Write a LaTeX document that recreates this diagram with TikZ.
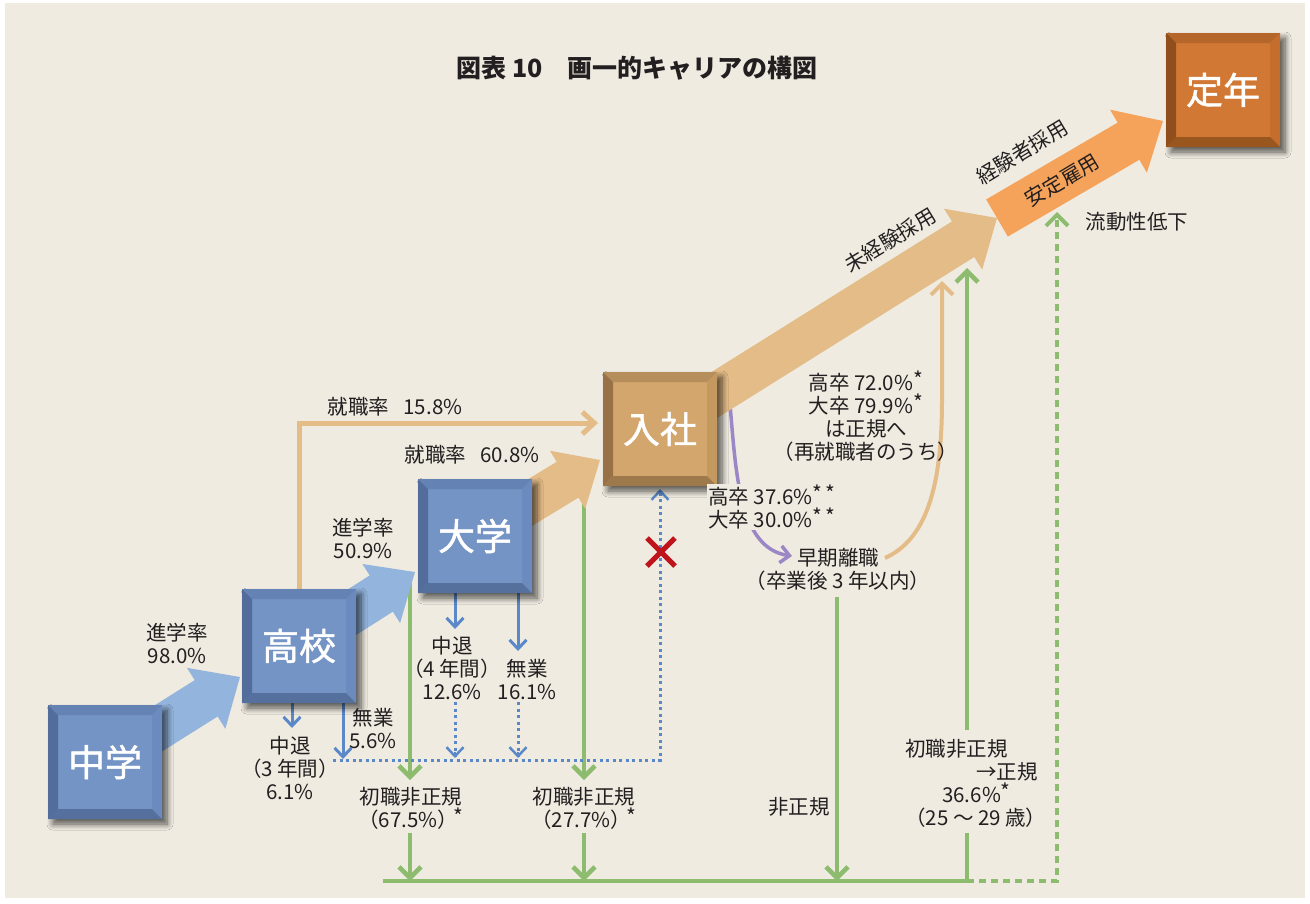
\documentclass[tikz,border=0pt]{standalone}
\usepackage{fontspec}
\setmainfont{Noto Sans CJK JP}
\newfontfamily\boxfont[FakeBold=1.2]{Noto Sans CJK JP}
\usetikzlibrary{arrows.meta,calc,shadows.blur}
\definecolor{bg}{HTML}{EFEBE1}
\definecolor{txt}{HTML}{231F20}
\definecolor{lblue}{HTML}{93B4DC}
\definecolor{lineblue}{HTML}{5A88C8}
\definecolor{gline}{HTML}{8DBC6E}
\definecolor{tanarr}{HTML}{E4BC88}
\definecolor{orarr}{HTML}{F5A35A}
\definecolor{purp}{HTML}{9B86C6}
\definecolor{redx}{HTML}{C0141C}
\definecolor{bface}{HTML}{7394C5}
\definecolor{btop}{HTML}{6582B4}
\definecolor{bleft}{HTML}{526C9B}
\definecolor{bbot}{HTML}{56709D}
\definecolor{bright}{HTML}{6B8BBE}
\definecolor{tface}{HTML}{D3A66E}
\definecolor{ttop}{HTML}{B68E5B}
\definecolor{tleft}{HTML}{987246}
\definecolor{tbot}{HTML}{9D794C}
\definecolor{tright}{HTML}{C49960}
\definecolor{oface}{HTML}{D27835}
\definecolor{otop}{HTML}{B5662A}
\definecolor{oleft}{HTML}{8F4E1B}
\definecolor{obot}{HTML}{99561F}
\definecolor{oright}{HTML}{C56D2C}
\newcommand\lblfont{\fontsize{20.5}{23}\selectfont}
\newcommand\sst{\raisebox{0.12em}{\fontsize{21}{21}\selectfont *}}
% #1 start, #2 tip, #3 name of head base, #4 shaft half width, #5 head half width, #6 head length, #7 colour
\newcommand\fatarrow[7]{%
  \coordinate (#3) at ($(#2)!#6!(#1)$);
  \fill[#7] ($(#1)!#4!90:(#2)$) -- ($(#3)!#4!-90:(#1)$) -- ($(#3)!#5!-90:(#1)$) -- (#2)
     -- ($(#3)!#5!90:(#1)$) -- ($(#3)!#4!90:(#1)$) -- ($(#1)!#4!-90:(#2)$) -- cycle;}
\tikzset{
  bevelbox/.style n args={5}{draw=none, minimum size=114pt, inner sep=0pt, fill=#1,
    text=white, font=\boxfont\fontsize{37}{37}\selectfont,
    blur shadow={shadow xshift=5pt,shadow yshift=-5pt,shadow blur radius=6pt,shadow blur steps=8,shadow opacity=65},
    path picture={
      \path (path picture bounding box.north west) coordinate (pa)
            (path picture bounding box.north east) coordinate (pb)
            (path picture bounding box.south east) coordinate (pc)
            (path picture bounding box.south west) coordinate (pd);
      \fill[#2] (pa) -- (pb) -- ([shift={(-10pt,-10pt)}]pb) -- ([shift={(10pt,-10pt)}]pa) -- cycle;
      \fill[#5] (pb) -- (pc) -- ([shift={(-10pt,10pt)}]pc) -- ([shift={(-10pt,-10pt)}]pb) -- cycle;
      \fill[#4] (pc) -- (pd) -- ([shift={(10pt,10pt)}]pd) -- ([shift={(-10pt,10pt)}]pc) -- cycle;
      \fill[#3] (pd) -- (pa) -- ([shift={(10pt,-10pt)}]pa) -- ([shift={(10pt,10pt)}]pd) -- cycle;
    }},
  bluebox/.style={bevelbox={bface}{btop}{bleft}{bbot}{bright}},
  tanbox/.style={bevelbox={tface}{ttop}{tleft}{tbot}{tright}},
  orbox/.style={bevelbox={oface}{otop}{oleft}{obot}{oright}},
  lbl/.style={text=txt, font=\lblfont, inner sep=0pt, align=center},
  gl/.style={draw=gline, line width=4.5pt, -{Straight Barb[length=11pt,width=22pt]}},
  glplain/.style={draw=gline, line width=4.5pt},
  gdash/.style={draw=gline, line width=4pt, dash pattern=on 7pt off 5pt},
  bl/.style={draw=lineblue, line width=3pt, -{Straight Barb[length=9pt,width=17pt]}},
  dotb/.style={draw=lineblue, line width=3pt, dash pattern=on 3pt off 3.5pt},
  tanline/.style={draw=tanarr, line width=5pt},
}
\begin{document}
\begin{tikzpicture}[x=1pt,y=-1pt]
\useasboundingbox (0,0) rectangle (1310,903);
\fill[white] (0,0) rectangle (1310,903);
\fill[bg] (5,3) rectangle (1305,898);

% coordinates
\coordinate (t1) at (240,677);
\coordinate (t2) at (415,572);
\coordinate (t3) at (600,460);
\coordinate (t4) at (997,218);
\coordinate (t5) at (1163,121);
\coordinate (kdA0) at (292,703);
\coordinate (kdA) at (292,728);
\coordinate (kdB0) at (343,703);
\coordinate (kdB) at (343,759);
\coordinate (ddA0) at (455,593);
\coordinate (ddA) at (455,629);
\coordinate (ddB0) at (518,593);
\coordinate (ddB) at (518,651);
\coordinate (dtA0) at (455,702);
\coordinate (dtA) at (455,758);
\coordinate (dtB0) at (518,702);
\coordinate (dtB) at (518,758);
\coordinate (dl) at (333,760);
\coordinate (g1a) at (410,577);
\coordinate (g1b) at (410,780);
\coordinate (g1c) at (410,833);
\coordinate (g1d) at (410,881);
\coordinate (g2a) at (584,487);
\coordinate (g2b) at (584,780);
\coordinate (g2c) at (584,833);
\coordinate (g2d) at (584,881);
\coordinate (g3a) at (837,597);
\coordinate (g3d) at (837,881);
\coordinate (bl0) at (383,881);
\coordinate (br0) at (967,881);
\coordinate (g4b) at (967,833);
\coordinate (g4c) at (967,730);
\coordinate (g4d) at (967,268);
\coordinate (dr0) at (1057,881);
\coordinate (dr1) at (1057,212);
\coordinate (pu0) at (730,405);
\coordinate (pu1) at (792,556);
\coordinate (tc0) at (885,558);
\coordinate (tc1) at (942,400);
\coordinate (tc2) at (942,281);

\path (105,762) coordinate (jhc) (299,646) coordinate (kkc) (475,536) coordinate (dgc)
      (660,429) coordinate (nsc) (1223,90) coordinate (tnc);

% thin connectors
\draw[gl] (g1a) -- (g1b);
\draw[gl] (g1c) -- (g1d);
\draw[gl] (g2a) -- (g2b);
\draw[gl] (g2c) -- (g2d);
\draw[gl] (g3a) -- (g3d);
\draw[glplain] (bl0) -- (br0);
\draw[glplain] (br0) -- (g4b);
\draw[gl] (g4c) -- (g4d);
\draw[gdash, -{Straight Barb[length=11pt,width=22pt]}] (br0) -- (dr0) -- (dr1);
\draw[tanline, -{Straight Barb[length=12pt,width=22pt]}] (kkc |- 0,590) |- (598,423);
\draw[draw=purp, line width=3.5pt, -{Straight Barb[length=9pt,width=17pt]}]
   (pu0) .. controls (736,470) and (738,548) .. (pu1);
\draw[draw=tanarr, line width=4pt, -{Straight Barb[length=11pt,width=22pt]}]
   (tc0) .. controls (925,540) and (942,490) .. (tc1) -- (tc2);
\draw[bl] (kdA0) -- (kdA);
\draw[bl] (kdB0) -- (kdB);
\draw[bl] (ddA0) -- (ddA);
\draw[bl] (ddB0) -- (ddB);
\draw[dotb] (dtA0) -- (dtA);
\draw[dotb] (dtB0) -- (dtB);
\draw[draw=lineblue, line width=2.5pt, -{Straight Barb[length=9pt,width=17pt]}] ([yshift=6pt]dtA) -- (dtA);
\draw[draw=lineblue, line width=2.5pt, -{Straight Barb[length=9pt,width=17pt]}] ([yshift=6pt]dtB) -- (dtB);
\draw[dotb] (dl) -| (660,492);
\coordinate (xu) at (660,489);
\draw[draw=lineblue, line width=2.5pt, -{Straight Barb[length=9pt,width=17pt]}] ([yshift=-6pt]xu) -- (xu);

% fat arrows
\fatarrow{jhc}{t1}{h1}{21.5pt}{36pt}{40pt}{lblue}
\fatarrow{kkc}{t2}{h2}{21.5pt}{35pt}{40pt}{lblue}
\fatarrow{dgc}{t3}{h3}{21pt}{34pt}{38pt}{tanarr}
\fatarrow{nsc}{t4}{h4}{21pt}{36pt}{40pt}{tanarr}
\fatarrow{t4}{t5}{h5}{21.5pt}{36.5pt}{40pt}{orarr}

% boxes
\node[bluebox] (jh) at (jhc) {中学};
\node[bluebox] (kk) at (kkc) {高校};
\node[bluebox] (dg) at (dgc) {大学};
\node[tanbox] (ns) at (nsc) {入社};
\node[orbox] (tn) at (tnc) {定年};

% labels
\node[lbl, font=\bfseries\fontsize{25}{25}\selectfont] (title) at (637,68) {図表 10\hspace{1em}画一的キャリアの構図};
\node[lbl] (L1) at (177,643) {進学率\\98.0\%};
\node[lbl] (L2) at (363,538) {進学率\\50.9\%};
\node[lbl] (L3) at (395,407) {就職率\hspace{0.7em}15.8\%};
\node[lbl] (L4) at (472,455) {就職率\hspace{0.7em}60.8\%};
\node[lbl] (L5) at (290,768) {中退\\（3 年間）\\6.1\%};
\node[lbl] (L6) at (373,729) {無業\\5.6\%};
\node[lbl] (L7) at (452,668) {中退\\（4 年間）\\12.6\%};
\node[lbl] (L8) at (527,680) {無業\\16.1\%};
\node[lbl] (L9) at (411,808) {初職非正規\\（67.5\%）\hspace{-0.2em}\sst};
\node[lbl] (L10) at (584,808) {初職非正規\\（27.7\%）\hspace{-0.2em}\sst};
\node[lbl] (L11) at (799,807) {非正規};
\node[lbl, align=left, anchor=west] (L12) at (905,783) {初職非正規\\\hspace*{71pt}→正規\\\hspace*{37pt}36.6\%\sst\\（25 ～ 29 歳）};
\node[lbl] (L13) at (866,416) {高卒 72.0\%\sst\\大卒 79.9\%\sst\\は正規へ\\（再就職者のうち）};
\node[lbl, align=left, anchor=west, fill=bg, inner sep=1pt] (L14) at (707,507) {高卒 37.6\%\sst\,\sst\\大卒 30.0\%\sst\,\sst};
\node[lbl] (L15) at (838,569) {早期離職\\（卒業後 3 年以内）};
\node[lbl, rotate=31] (L16) at (890,240) {未経験採用};
\node[lbl, rotate=31] (L17) at (1022,152) {経験者採用};
\node[lbl, rotate=31] (L18) at (1062,180) {安定雇用};
\node[lbl] (L19) at (1137,222) {流動性低下};

% red cross
\coordinate (rx) at (661,552);
\draw[redx, line width=5pt] ([shift={(-14pt,-14pt)}]rx) -- ([shift={(14pt,14pt)}]rx);
\draw[redx, line width=5pt] ([shift={(-14pt,14pt)}]rx) -- ([shift={(14pt,-14pt)}]rx);
\end{tikzpicture}
\end{document}
